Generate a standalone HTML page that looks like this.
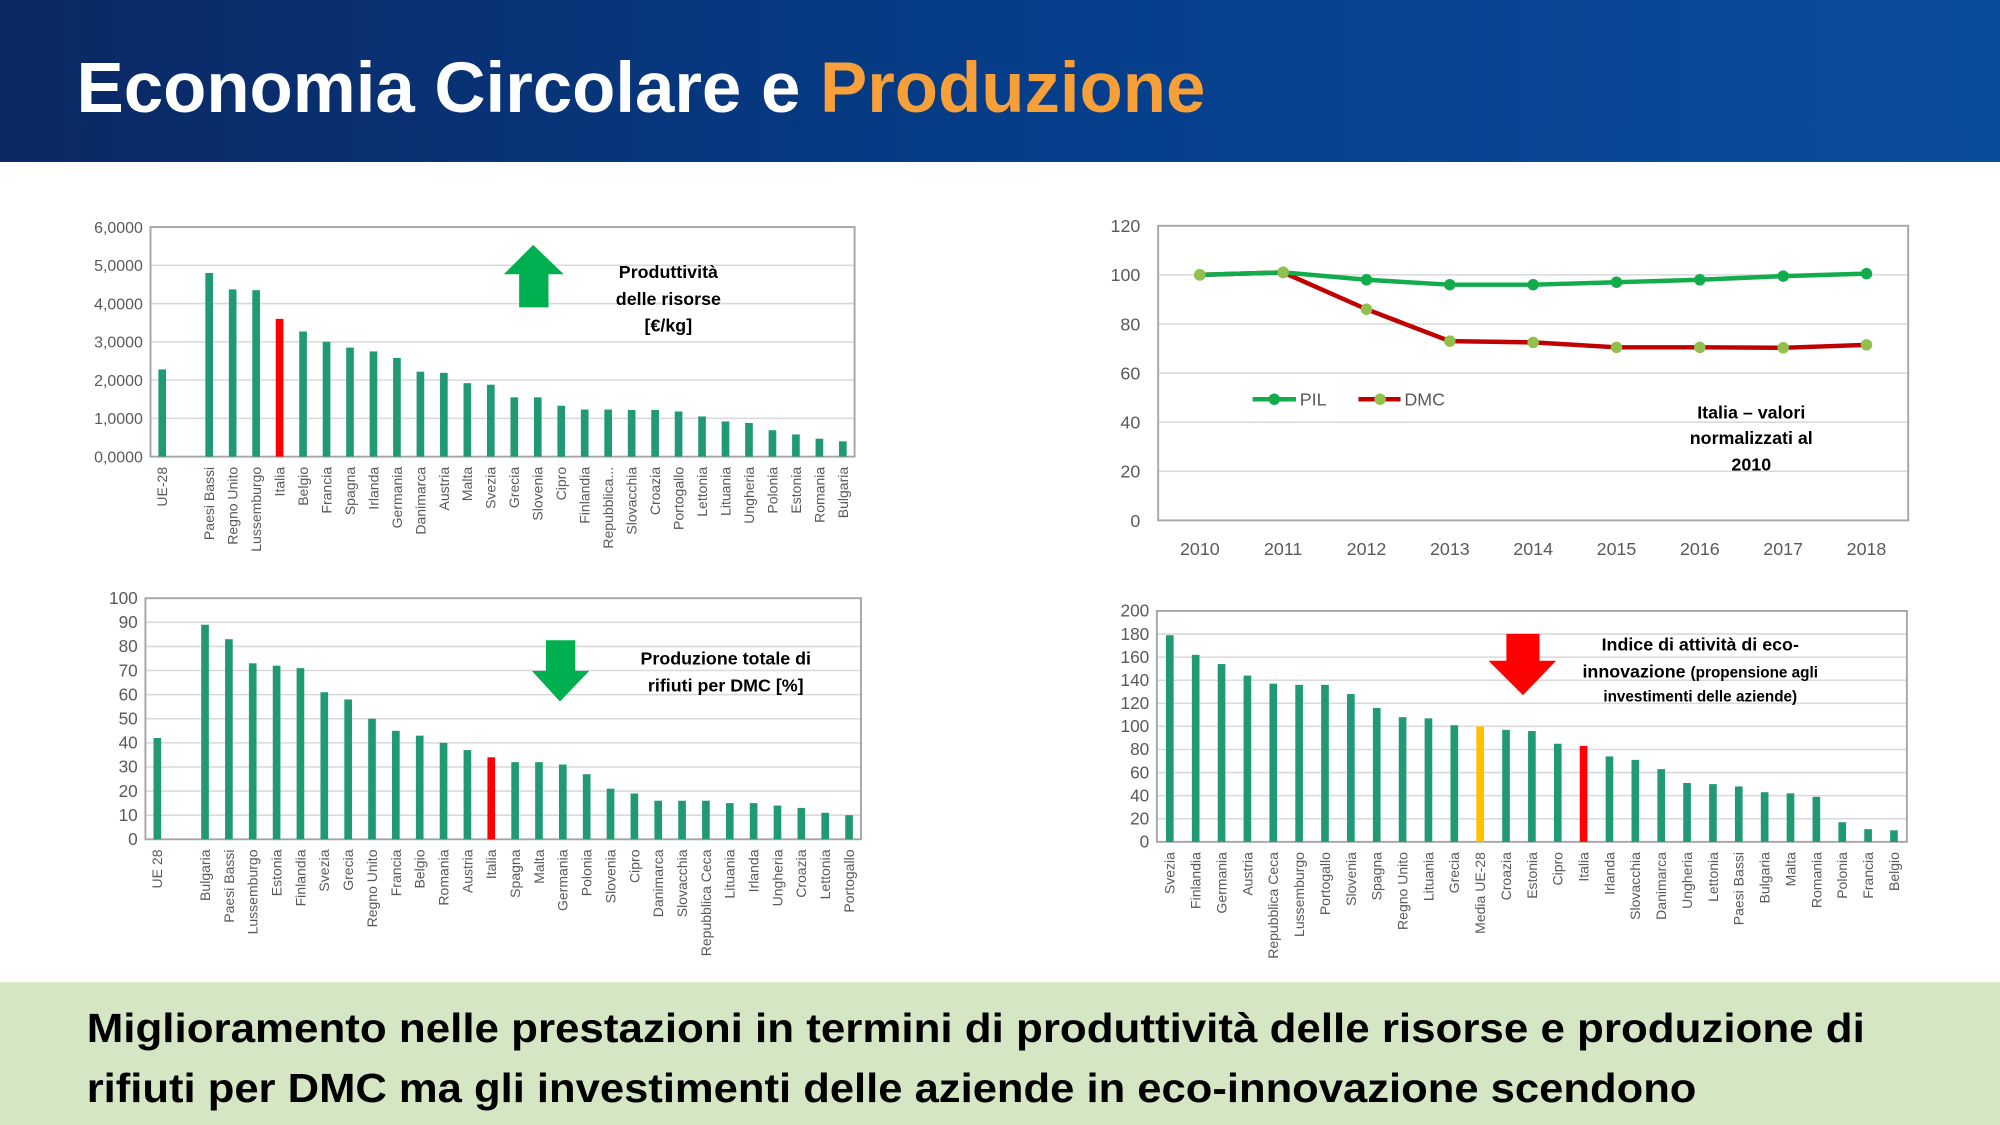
<!DOCTYPE html>
<html><head><meta charset="utf-8">
<style>
html,body{margin:0;padding:0;background:#fff;overflow:hidden;}
svg{display:block;font-family:"Liberation Sans",sans-serif;}
</style></head>
<body>
<svg id="root" width="2000" height="1125" viewBox="0 0 1568 882" xmlns="http://www.w3.org/2000/svg">
<defs>
<linearGradient id="hdr" x1="0" y1="0" x2="1" y2="0">
<stop offset="0" stop-color="#0b2863"/><stop offset="0.55" stop-color="#053f8c"/><stop offset="1" stop-color="#0a4c9c"/>
</linearGradient>
</defs>
<rect x="0" y="0" width="1568" height="127" fill="url(#hdr)"/>
<text x="60" y="88" font-size="56" font-weight="bold" fill="#fff" textLength="885" lengthAdjust="spacingAndGlyphs">Economia Circolare e <tspan fill="#f7a03a">Produzione</tspan></text>
<rect x="0" y="770" width="1568" height="112" fill="#d4e6c4"/>
<text x="68" y="817" font-size="32" font-weight="bold" fill="#000" textLength="1394" lengthAdjust="spacingAndGlyphs">Miglioramento nelle prestazioni in termini di produttività delle risorse e produzione di</text>
<text x="68" y="864" font-size="32" font-weight="bold" fill="#000" textLength="1262" lengthAdjust="spacingAndGlyphs">rifiuti per DMC ma gli investimenti delle aziende in eco-innovazione scendono</text>
<g id="c1"></g>
<g id="c2"></g>
<g id="c3"></g>
<g id="c4"></g>
<g><polygon points="418,192 442,215 430,215 430,241 407,241 407,215 395,215" fill="#00b050"/></g>
<g font-weight="bold" font-size="14" text-anchor="middle" fill="#000">
<text x="524" y="218">Produttività</text><text x="524" y="239">delle risorse</text><text x="524" y="260">[€/kg]</text></g>
<g><polygon points="428,502 451,502 451,526 462,526 439,550 417,526 428,526" fill="#00b050"/></g>
<g font-weight="bold" font-size="14" text-anchor="middle" fill="#000">
<text x="569" y="521">Produzione totale di</text><text x="569" y="542">rifiuti per DMC [%]</text></g>
<g><polygon points="1181,497 1207,497 1207,518 1220,518 1194,545 1167,518 1181,518" fill="#ff0000"/></g>
<g font-weight="bold" fill="#000" text-anchor="middle">
<text x="1333" y="510" font-size="14">Indice di attività di eco-</text>
<text x="1333" y="531" font-size="14">innovazione <tspan font-size="12">(propensione agli</tspan></text>
<text x="1333" y="550" font-size="12">investimenti delle aziende)</text></g>
<g font-weight="bold" font-size="14" fill="#000" text-anchor="middle">
<text x="1373" y="328">Italia – valori</text><text x="1373" y="348">normalizzati al</text><text x="1373" y="369">2010</text></g>
</svg>
<script>
const c1Cats=["UE-28","","Paesi Bassi","Regno Unito","Lussemburgo","Italia","Belgio","Francia","Spagna","Irlanda","Germania","Danimarca","Austria","Malta","Svezia","Grecia","Slovenia","Cipro","Finlandia","Repubblica...","Slovacchia","Croazia","Portogallo","Lettonia","Lituania","Ungheria","Polonia","Estonia","Romania","Bulgaria"];
const c1Vals=[2.28,null,4.80,4.37,4.35,3.60,3.27,3.00,2.85,2.75,2.58,2.22,2.19,1.92,1.88,1.55,1.55,1.33,1.23,1.23,1.22,1.22,1.18,1.05,0.92,0.88,0.69,0.58,0.47,0.40];
const c1Ticks=[0,1,2,3,4,5,6];
const c1TickLabels=["0,0000","1,0000","2,0000","3,0000","4,0000","5,0000","6,0000"];

const c2Cats=["UE 28","","Bulgaria","Paesi Bassi","Lussemburgo","Estonia","Finlandia","Svezia","Grecia","Regno Unito","Francia","Belgio","Romania","Austria","Italia","Spagna","Malta","Germania","Polonia","Slovenia","Cipro","Danimarca","Slovacchia","Repubblica Ceca","Lituania","Irlanda","Ungheria","Croazia","Lettonia","Portogallo"];
const c2Vals=[42,null,89,83,73,72,71,61,58,50,45,43,40,37,34,32,32,31,27,21,19,16,16,16,15,15,14,13,11,10];
const c2Ticks=[0,10,20,30,40,50,60,70,80,90,100];

const c3Cats=["Svezia","Finlandia","Germania","Austria","Repubblica Ceca","Lussemburgo","Portogallo","Slovenia","Spagna","Regno Unito","Lituania","Grecia","Media UE-28","Croazia","Estonia","Cipro","Italia","Irlanda","Slovacchia","Danimarca","Ungheria","Lettonia","Paesi Bassi","Bulgaria","Malta","Romania","Polonia","Francia","Belgio"];
const c3Vals=[179,162,154,144,137,136,136,128,116,108,107,101,100,97,96,85,83,74,71,63,51,50,48,43,42,39,17,11,10];
const c3Ticks=[0,20,40,60,80,100,120,140,160,180,200];

const c4Years=["2010","2011","2012","2013","2014","2015","2016","2017","2018"];
const c4Pil=[100,101,98,96,96,97,98,99.5,100.5];
const c4Dmc=[100,101,86,73,72.5,70.5,70.5,70.3,71.5];
const c4Ticks=[0,20,40,60,80,100,120];

const NS="http://www.w3.org/2000/svg";
function mk(parent,tag,attrs,text){const e=document.createElementNS(NS,tag);for(const k in attrs)e.setAttribute(k,attrs[k]);if(text!==undefined)e.textContent=text;parent.appendChild(e);return e;}

function barChart(g,box,cats,vals,ticks,tickLabels,max,colorFn,barW,labelSize,tickSize){
  const y=v=>box.b-(v/max)*(box.b-box.t);
  const step=(box.r-box.l)/cats.length;
  const x=i=>box.l+step*(i+0.5);
  ticks.forEach((t,i)=>{
    if(t>0&&t<max){const gl=mk(g,'line',{x1:box.l,x2:box.r,y1:y(t),y2:y(t),stroke:'#d9d9d9','stroke-width':1.2});
    
    }
    const tl=mk(g,'text',{x:box.l-6,y:y(t)+4.5,'font-size':tickSize,'text-anchor':'end',fill:'#595959'},tickLabels?tickLabels[i]:String(t));
    
    
  });
  const fr=mk(g,'rect',{x:box.l,y:box.t,width:box.r-box.l,height:box.b-box.t,fill:'none',stroke:'#a6a6a6','stroke-width':1.5});
  
  
  cats.forEach((c,i)=>{
    const v=vals[i];
    if(v!==null&&v!==undefined){
      const r=mk(g,'rect',{x:x(i)-barW/2,y:y(v),width:barW,height:box.b-y(v),fill:colorFn(c)});
      
      
    }
    if(c){
      const lx=x(i)+labelSize*0.35, ly=box.b+8;
      const t=mk(g,'text',{x:lx,y:ly,'font-size':labelSize,'text-anchor':'end',fill:'#595959',transform:`rotate(-90 ${lx} ${ly})`},c);
      
      
    }
  });
}
const G='#1f9a74';
barChart(document.getElementById('c1'),{l:118,r:670,t:178,b:358},c1Cats,c1Vals,c1Ticks,c1TickLabels,6,c=>c==='Italia'?'#ff0000':G,6,11,12.5);
barChart(document.getElementById('c2'),{l:114,r:675,t:469,b:658},c2Cats,c2Vals,c2Ticks,null,100,c=>c==='Italia'?'#ff0000':G,6,11,13.5);
barChart(document.getElementById('c3'),{l:907,r:1495,t:479,b:660},c3Cats,c3Vals,c3Ticks,null,200,c=>c==='Italia'?'#ff0000':(c==='Media UE-28'?'#ffc000':G),6,11,13.5);

const c4=document.getElementById('c4');
(function(){
  const box={l:908,r:1496,t:177,b:408},max=120;
  const y=v=>box.b-(v/max)*(box.b-box.t);
  const step=(box.r-box.l)/c4Years.length;
  const x=i=>box.l+step*(i+0.5);
  c4Ticks.forEach(t=>{
    if(t>0&&t<max){const gl=mk(c4,'line',{x1:box.l,x2:box.r,y1:y(t),y2:y(t),stroke:'#d9d9d9','stroke-width':1.2});
    
    }
    const tl=mk(c4,'text',{x:box.l-14,y:y(t)+5,'font-size':14,'text-anchor':'end',fill:'#595959'},String(t));
    
    
  });
  const fr=mk(c4,'rect',{x:box.l,y:box.t,width:box.r-box.l,height:box.b-box.t,fill:'none',stroke:'#a6a6a6','stroke-width':1.5});
  
  
  c4Years.forEach((yr,i)=>{
    const t=mk(c4,'text',{x:x(i),y:435,'font-size':14,'text-anchor':'middle',fill:'#595959'},yr);
    
    
  });
  function series(vals,col,mcol,name){
    const p=mk(c4,'polyline',{points:vals.map((v,i)=>x(i)+','+y(v)).join(' '),fill:'none',stroke:col,'stroke-width':3.5});
    
    
    vals.forEach((v,i)=>{
      const c=mk(c4,'circle',{cx:x(i),cy:y(v),r:4.5,fill:mcol});
      
      
    });
  }
  series(c4Dmc,'#c00000','#92c04c','dmc');
  series(c4Pil,'#12ac4c','#12ac4c','pil');
  mk(c4,'circle',{cx:x(0),cy:y(c4Dmc[0]),r:4.5,fill:'#92c04c'});
  mk(c4,'circle',{cx:x(1),cy:y(c4Dmc[1]),r:4.5,fill:'#92c04c'});
  const l1=mk(c4,'g',{});
  
  
  mk(l1,'line',{x1:982,x2:1016,y1:313,y2:313,stroke:'#12ac4c','stroke-width':3.5});
  mk(l1,'circle',{cx:999,cy:313,r:4.5,fill:'#12ac4c'});
  mk(l1,'text',{x:1019,y:318,'font-size':14,fill:'#595959'},'PIL');
  const l2=mk(c4,'g',{});
  
  
  mk(l2,'line',{x1:1065,x2:1098,y1:313,y2:313,stroke:'#c00000','stroke-width':3.5});
  mk(l2,'circle',{cx:1082,cy:313,r:4.5,fill:'#92c04c'});
  mk(l2,'text',{x:1101,y:318,'font-size':14,fill:'#595959'},'DMC');
})();
</script>
</body></html>
